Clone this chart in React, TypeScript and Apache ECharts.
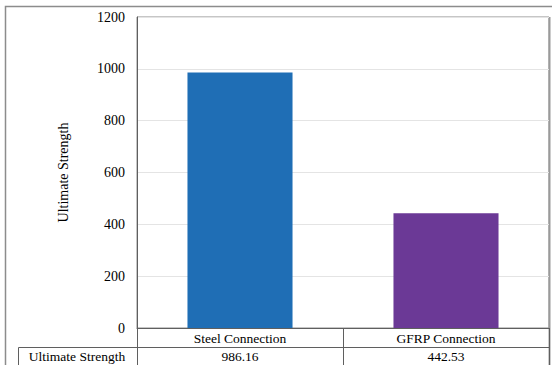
import React, { useEffect, useRef } from "react";
import * as echarts from "echarts";

const categories = ["Steel Connection", "GFRP Connection"];
const seriesName = "Ultimate Strength";
const values = [986.16, 442.53];
const barColors = ["#1F6EB5", "#6B3996"];
const yTicks = { min: 0, max: 1200, interval: 200 };

const FONT = "'Liberation Serif', 'Times New Roman', serif";
const LINE = "#5f5f5f";
const FRAME = "#8c8c8c";

export default function App() {
  const ref = useRef<HTMLDivElement>(null);

  useEffect(() => {
    if (!ref.current) return;
    const chart = echarts.init(ref.current, null, { renderer: "svg" });
    chart.setOption({
      animation: false,
      backgroundColor: "#ffffff",
      grid: {
        left: 137,
        right: 3,
        top: 17,
        bottom: 37,
        show: true,
        borderColor: FRAME,
        borderWidth: 1,
      },
      xAxis: [
        {
          type: "category",
          data: categories,
          position: "bottom",
          axisLine: { show: true, lineStyle: { color: LINE, width: 1 } },
          axisTick: { show: true, length: 19, lineStyle: { color: LINE, width: 1 } },
          axisLabel: {
            margin: 3,
            fontFamily: FONT,
            fontSize: 13.5,
            color: "#000",
            verticalAlign: "top",
          },
        },
        {
          type: "category",
          data: values.map((v) => v.toFixed(2)),
          position: "bottom",
          offset: 19,
          axisLine: { show: true, lineStyle: { color: LINE, width: 1 } },
          axisTick: { show: true, length: 18, lineStyle: { color: LINE, width: 1 } },
          axisLabel: {
            margin: 2,
            fontFamily: FONT,
            fontSize: 13.5,
            color: "#000",
            verticalAlign: "top",
          },
        },
      ],
      yAxis: {
        type: "value",
        min: yTicks.min,
        max: yTicks.max,
        interval: yTicks.interval,
        name: seriesName,
        nameLocation: "middle",
        nameRotate: 90,
        nameGap: 67,
        nameTextStyle: { fontFamily: FONT, fontSize: 14, color: "#000" },
        axisLine: { show: true, lineStyle: { color: LINE, width: 1 } },
        axisTick: { show: false },
        axisLabel: {
          margin: 12,
          fontFamily: FONT,
          fontSize: 14,
          color: "#000",
          formatter: (v: number) => String(v),
        },
        splitLine: { show: true, lineStyle: { color: "#e4e4e4", width: 1 } },
      },
      series: [
        {
          name: seriesName,
          type: "bar",
          xAxisIndex: 0,
          barCategoryGap: "49%",
          data: values.map((v, i) => ({ value: v, itemStyle: { color: barColors[i] } })),
        },
      ],
      graphic: [
        // outer chart frame
        {
          type: "polyline",
          shape: { points: [[5.5, 365], [5.5, 6.5], [552, 6.5]] },
          style: { stroke: FRAME, lineWidth: 1.5, fill: null },
          silent: true,
        },
        // right edge of the plot / table
        {
          type: "line",
          shape: { x1: 549.5, y1: 17, x2: 549.5, y2: 365 },
          style: { stroke: "#9a9a9a", lineWidth: 2 },
          silent: true,
        },
        // legend cell of the data table
        {
          type: "polyline",
          shape: { points: [[18.5, 365], [18.5, 347.5], [137, 347.5]] },
          style: { stroke: LINE, lineWidth: 1, fill: null },
          silent: true,
        },
        {
          type: "text",
          x: 77,
          y: 356,
          style: {
            text: seriesName,
            fontFamily: FONT,
            fontSize: 13.5,
            fill: "#000",
            textAlign: "center",
            textVerticalAlign: "middle",
          },
          silent: true,
        },
      ],
    });
    return () => chart.dispose();
  }, []);

  return <div ref={ref} style={{ width: 552, height: 365, position: "absolute", left: 0, top: 0 }} />;
}
